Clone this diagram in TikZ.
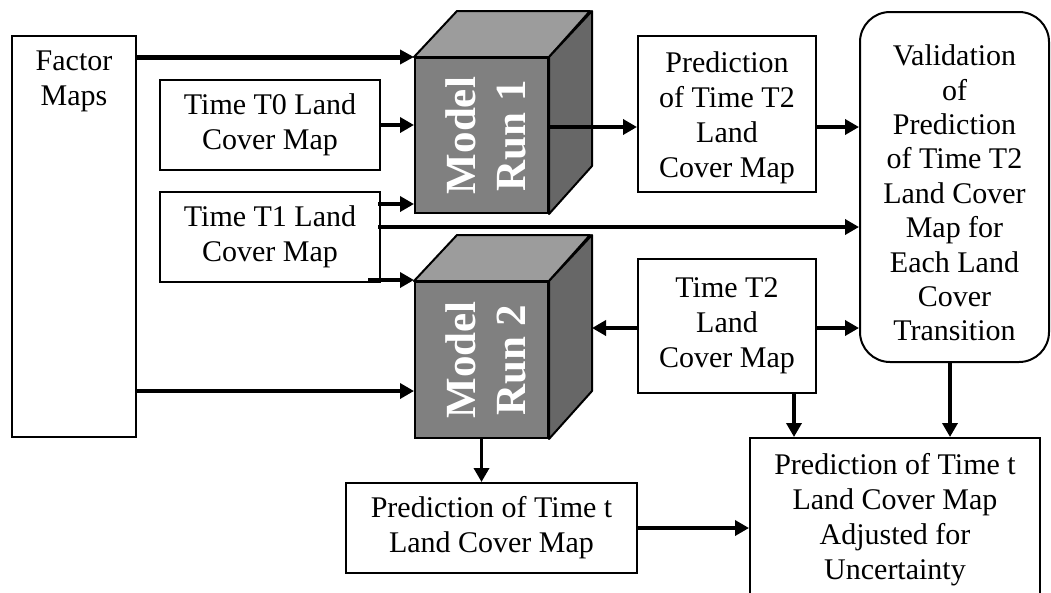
\documentclass[tikz,border=0pt]{standalone}
\usepackage{fontspec}
\setmainfont{Liberation Serif}
\usetikzlibrary{arrows.meta}
\definecolor{cubefront}{HTML}{808080}
\definecolor{cubetop}{HTML}{9C9C9C}
\definecolor{cubeside}{HTML}{676767}
\begin{document}
\begin{tikzpicture}[x=1pt,y=-1pt,
  txt/.style={align=center, font=\fontsize{30}{35}\selectfont},
  box/.style={draw=black, line width=2pt, fill=white, inner sep=2pt, txt},
  cubeface/.style={draw=black, line width=2pt, line join=round},
  modeltext/.style={rotate=90, text=white, align=center, inner sep=0pt,
    font=\fontsize{43}{50}\selectfont\bfseries},
  conn/.style={line width=3.8pt, -{Triangle[length=14pt,width=15pt]}},
  connthick/.style={line width=5pt, -{Triangle[length=14pt,width=14pt]}}
]
\useasboundingbox (0,0) rectangle (1051,592);
\fill[white] (0,0) rectangle (1051,592);

% boxes
\node[box, minimum width=124pt, minimum height=401pt,
  label={[anchor=north, yshift=-12pt, txt]north:Factor\\Maps}]
  (fm) at (74,236.5) {};
\node[box, minimum width=220pt, minimum height=90pt] (t0) at (270,125) {Time T0 Land\\Cover Map};
\node[box, minimum width=220pt, minimum height=90pt] (t1) at (270,237) {Time T1 Land\\Cover Map};
\node[box, minimum width=178pt, minimum height=156pt,
  label={[txt, yshift=-4pt]center:Prediction\\of Time T2\\Land\\Cover Map}] (pt2) at (727,114) {};
\node[box, minimum width=178pt, minimum height=134pt] (t2) at (727,326) {Time T2\\Land\\Cover Map};
\node[box, rounded corners=30pt, minimum width=189pt, minimum height=350pt,
  label={[align=center, font=\fontsize{30}{34.4}\selectfont, yshift=-6pt]center:Validation\\of\\Prediction\\of Time T2\\Land Cover\\Map for\\Each Land\\Cover\\Transition}]
  (val) at (954.5,187) {};
\node[box, minimum width=291pt, minimum height=90pt] (pt) at (491.5,528) {Prediction of Time t\\Land Cover Map};
\node[box, minimum width=290pt, minimum height=164pt] (br) at (895,520)
  {Prediction of Time t\\Land Cover Map\\Adjusted for\\Uncertainty};

% cube 1
\node[draw=black, line width=2pt, fill=cubefront, minimum width=133pt, minimum height=155pt, inner sep=0pt]
  (m1) at (481.5,135.5) {};
\filldraw[cubeface, fill=cubetop] (m1.north west) -- ++(43,-46) -- ++(133,0) -- (m1.north east) -- cycle;
\filldraw[cubeface, fill=cubeside] (m1.north east) -- ++(43,-46) -- ++(0,155) -- (m1.south east) -- cycle;
\node[modeltext] (m1t) at ([xshift=4pt]m1.center) {Model\\Run 1};

% cube 2
\node[draw=black, line width=2pt, fill=cubefront, minimum width=133pt, minimum height=156pt, inner sep=0pt]
  (m2) at (481.5,360) {};
\filldraw[cubeface, fill=cubetop] (m2.north west) -- ++(43,-46) -- ++(133,0) -- (m2.north east) -- cycle;
\filldraw[cubeface, fill=cubeside] (m2.north east) -- ++(43,-46) -- ++(0,156) -- (m2.south east) -- cycle;
\node[modeltext] (m2t) at ([xshift=4pt]m2.center) {Model\\Run 2};
\coordinate (m2side) at ([xshift=43pt]m2.east);

% connectors
\draw[connthick] ([yshift=179.5pt]fm.east) -- ([yshift=179.5pt]fm.east -| m1.west);
\draw[conn] ([xshift=-2pt]t0.east) -- (t0.east -| m1.west);
\draw[conn] ([xshift=-3pt,yshift=33pt]t1.east) -- ([yshift=33pt]t1.east -| m1.west);
\draw[conn] ([xshift=-3pt,yshift=10pt]t1.east) -- ([yshift=10pt]t1.east -| val.west);
\draw[conn] ([xshift=-13pt,yshift=-43pt]t1.east) -- ([yshift=-43pt]t1.east -| m2.west);
\draw[conn] ([yshift=-154.5pt]fm.east) -- ([yshift=-154.5pt]fm.east -| m2.west);
\draw[conn] ([yshift=-13pt]pt2.west -| m1.east) -- ([yshift=-13pt]pt2.west);
\draw[conn] ([yshift=-13pt]pt2.east) -- ([yshift=-13pt]pt2.east -| val.west);
\draw[conn] ([yshift=-2pt]t2.west) -- ([yshift=-2pt]t2.west -| m2side);
\draw[conn] ([yshift=-2pt]t2.east) -- ([yshift=-2pt]t2.east -| val.west);
\draw[conn] ([xshift=67pt]t2.south) -- ([xshift=67pt]t2.south |- br.north);
\draw[conn] ([xshift=-4.5pt]val.south) -- ([xshift=-4.5pt]val.south |- br.north);
\draw[conn] (m2.south) -- (m2.south |- pt.north);
\draw[conn] (pt.east) -- (pt.east -| br.west);
\end{tikzpicture}
\end{document}
